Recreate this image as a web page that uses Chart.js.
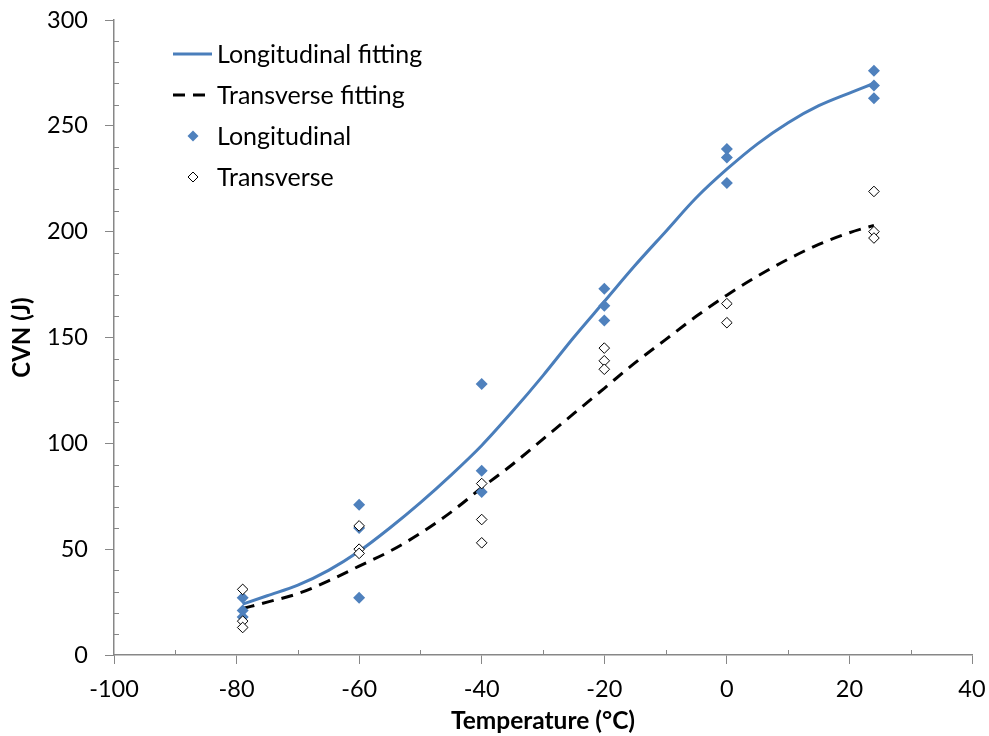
<!DOCTYPE html>
<html><head><meta charset="utf-8">
<script src="https://cdn.jsdelivr.net/npm/chart.js@4"></script>
<style>html,body{margin:0;padding:0;background:#fff}#wrap{width:989px;height:736px;position:relative}</style>
</head><body><div id="wrap"><canvas id="c" width="989" height="736"></canvas></div>
<script>
// Measured data (temperature °C, CVN J)
const longTemps = [-79,-79,-79,-60,-60,-60,-40,-40,-40,-20,-20,-20,0,0,0,24,24,24];
const longCVN   = [27,21,18,71,60,27,128,87,77,173,165,158,239,235,223,276,269,263];
const transTemps = [-79,-79,-79,-60,-60,-60,-40,-40,-40,-20,-20,-20,0,0,24,24,24];
const transCVN   = [31,16,13,61,50,48,81,64,53,145,139,135,166,157,219,200,197];
// Fitted curves
const fitTemps  = [-79,-75,-70,-65,-60,-55,-50,-45,-40,-35,-30,-25,-20,-15,-10,-5,0,5,10,15,20,24];
const longFit   = [24,28,33,40,49,60,72,85,99,115,132,150,167,184,200,216,229.5,241.5,251.5,259.5,265.5,270];
const transFit  = [22,25,29,35,42,49,57.5,67.5,79,90,102,114,126,138,149,160,170,179,187,194,199.5,203];
const xTicks = [-100,-80,-60,-40,-20,0,20,40];
const yTicks = [0,50,100,150,200,250,300];
const legendLabels = ['Longitudinal fitting','Transverse fitting','Longitudinal','Transverse'];

const pts = (xs, ys) => xs.map((x,i)=>({x:x,y:ys[i]}));
const BLUE = '#4A7EBB', MARK = '#4F81BD', AXIS = '#878787';
const FONT = 'Lato';

const minorTicks = {
  id:'minorTicks',
  afterDraw(chart){
    const ctx = chart.ctx, xs = chart.scales.x, ys = chart.scales.y, a = chart.chartArea;
    ctx.save(); ctx.strokeStyle = AXIS; ctx.lineWidth = 1;
    for(let v=xs.min; v<=xs.max; v+=10){ if(v%20===0) continue;
      const p = Math.round(xs.getPixelForValue(v))+0.5;
      ctx.beginPath(); ctx.moveTo(p,a.bottom); ctx.lineTo(p,a.bottom-5); ctx.stroke(); }
    for(let v=ys.min; v<=ys.max; v+=10){ if(v%50===0) continue;
      const p = Math.round(ys.getPixelForValue(v))+0.5;
      ctx.beginPath(); ctx.moveTo(a.left,p); ctx.lineTo(a.left+5,p); ctx.stroke(); }
    ctx.restore();
  }
};
const legendPlugin = {
  id:'customLegend',
  afterDraw(chart){
    const ctx = chart.ctx; ctx.save();
    ctx.font = '25px '+FONT; ctx.fillStyle = '#000'; ctx.textBaseline = 'middle';
    const rows = [54,95,136,177], tx = 217;
    ctx.lineWidth = 3;
    ctx.strokeStyle = BLUE; ctx.setLineDash([]);
    ctx.beginPath(); ctx.moveTo(173,rows[0]); ctx.lineTo(212,rows[0]); ctx.stroke();
    ctx.strokeStyle = '#000'; ctx.setLineDash([12,8]);
    ctx.beginPath(); ctx.moveTo(173,rows[1]); ctx.lineTo(212,rows[1]); ctx.stroke();
    ctx.setLineDash([]);
    const diamond=(cx,cy,r,fill,stroke)=>{ctx.beginPath();ctx.moveTo(cx,cy-r);ctx.lineTo(cx+r,cy);ctx.lineTo(cx,cy+r);ctx.lineTo(cx-r,cy);ctx.closePath();
      ctx.fillStyle=fill;ctx.fill(); if(stroke){ctx.lineWidth=1;ctx.strokeStyle=stroke;ctx.stroke();}};
    diamond(193,rows[2],5.5,MARK,null);
    diamond(193,rows[3],5,'#fff','#000');
    ctx.fillStyle='#000';
    legendLabels.forEach((t,i)=>ctx.fillText(t,tx,rows[i]+1));
    ctx.restore();
  }
};

new Chart(document.getElementById('c'), {
  type:'scatter',
  data:{ datasets:[
    {type:'line', label:legendLabels[0], data:pts(fitTemps,longFit), borderColor:BLUE, borderWidth:3, pointRadius:0, cubicInterpolationMode:'monotone', fill:false, order:3},
    {type:'line', label:legendLabels[1], data:pts(fitTemps,transFit), borderColor:'#000', borderWidth:3, borderDash:[12,8], pointRadius:0, cubicInterpolationMode:'monotone', fill:false, order:2},
    {label:legendLabels[2], data:pts(longTemps,longCVN), pointStyle:'rectRot', pointRadius:6, backgroundColor:MARK, borderColor:MARK, borderWidth:0, order:1},
    {label:legendLabels[3], data:pts(transTemps,transCVN), pointStyle:'rectRot', pointRadius:5.3, backgroundColor:'#fff', borderColor:'#000', borderWidth:1, order:0}
  ]},
  options:{
    responsive:false, animation:false, devicePixelRatio:1,
    layout:{padding:{left:0,top:20,right:17,bottom:0}},
    plugins:{legend:{display:false}, tooltip:{enabled:false}},
    scales:{
      x:{type:'linear', min:-100, max:40, afterBuildTicks:s=>{s.ticks=xTicks.map(v=>({value:v}));},
        afterFit:s=>{s.height=81; s.paddingLeft=0; s.paddingRight=0;},
        grid:{drawOnChartArea:false, drawTicks:true, tickLength:9, color:AXIS},
        border:{color:AXIS, width:1.5},
        ticks:{font:{family:FONT,size:23.5}, color:'#000', padding:11, maxRotation:0},
        title:{display:true, text:'Temperature (°C)', font:{family:FONT,size:24.5,weight:'bold'}, color:'#000', padding:{top:0,bottom:0}}},
      y:{type:'linear', min:0, max:300, afterBuildTicks:s=>{s.ticks=yTicks.map(v=>({value:v}));},
        afterFit:s=>{s.width=114; s.paddingTop=0; s.paddingBottom=0;},
        grid:{drawOnChartArea:false, drawTicks:true, tickLength:9, color:AXIS},
        border:{color:AXIS, width:1.5},
        ticks:{font:{family:FONT,size:23.5}, color:'#000', padding:17},
        title:{display:true, text:'CVN (J)', font:{family:FONT,size:24,weight:'bold'}, color:'#000', padding:{top:8,bottom:8}}}
    }
  },
  plugins:[minorTicks, legendPlugin]
});
</script></body></html>
